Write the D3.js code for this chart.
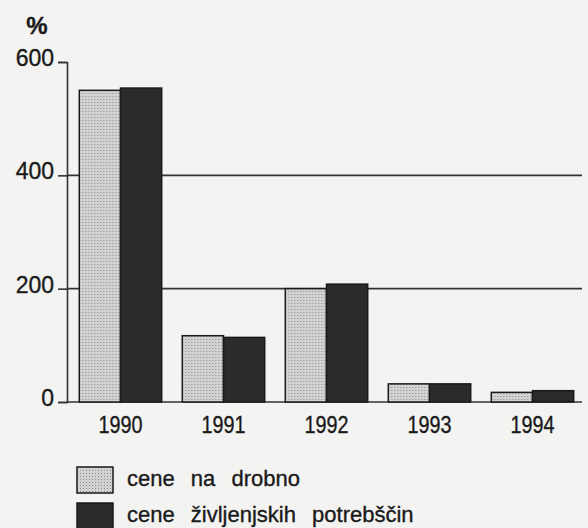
<!doctype html>
<html>
<head>
<style>
    body { margin: 0; background: #f3f3f1; }
    text { font-family: "Liberation Sans", Arial, sans-serif; fill: #1a1a1a; stroke: #1a1a1a; stroke-width: 0.35px; }
</style>
<script src="https://d3js.org/d3.v7.min.js"></script>
</head>
<body>

    <svg id="chart" width="588" height="528"></svg>

    <script>

        // Data
        var years = ["1990", "1991", "1992", "1993", "1994"];
        var retail = [550, 117, 200, 32, 17];        // cene na drobno
        var living = [554, 114, 208, 32, 20];        // cene življenjskih potrebščin
        var yTicks = [0, 200, 400, 600];
        var seriesNames = ["cene na drobno", "cene življenjskih potrebščin"];

        var svg = d3.select("#chart");

        // Scales
        var x = d3.scaleBand().domain(years).range([69, 584]).paddingInner(0.2).paddingOuter(0.1);
        var xs = d3.scaleBand().domain([0, 1]).range([0, x.bandwidth()]);
        var y = d3.scaleLinear().domain([0, 600]).range([402, 62]);
        var colors = ["#c6c6c4", "#2b2b2b"];

        // light grey stipple
        var defs = svg.append("defs");
        var pat = defs.append("pattern").attr("id", "dots")
            .attr("width", 3).attr("height", 3).attr("patternUnits", "userSpaceOnUse");
        pat.append("rect").attr("width", 3).attr("height", 3).attr("fill", "#d2d2d0");
        pat.append("rect").attr("width", 1).attr("height", 1).attr("fill", "#8a8a8a");

        // Gridlines at 200 and 400
        svg.append("g")
            .selectAll("line")
            .data([200, 400])
            .enter()
            .append("line")
              .attr("x1", 67).attr("x2", 582)
              .attr("y1", function (d) { return y(d); })
              .attr("y2", function (d) { return y(d); })
              .attr("stroke", "#333")
              .attr("stroke-width", 1.6);

        // Y axis
        var yAxis = svg.append("g")
            .attr("transform", "translate(67,0)")
            .call(d3.axisLeft(y).tickValues(yTicks).tickSize(9).tickPadding(4));
        yAxis.select(".domain").attr("stroke", "#333").attr("stroke-width", 1.6);
        yAxis.selectAll(".tick line").attr("stroke", "#333").attr("stroke-width", 1.6);
        yAxis.selectAll(".tick text")
            .style("font-size", "23px")
            .attr("fill", "#1a1a1a")
            .attr("stroke", "#1a1a1a")
            .attr("stroke-width", 0.5)
            .attr("dy", "0.15em")
            .style("font-family", "'Liberation Sans', Arial, sans-serif");

        // Baseline
        svg.append("line")
            .attr("x1", 67).attr("x2", 582)
            .attr("y1", y(0)).attr("y2", y(0))
            .attr("stroke", "#333").attr("stroke-width", 1.6);

        // Bars
        var groups = svg.append("g")
            .selectAll("g")
            .data(years)
            .enter()
            .append("g")
              .attr("transform", function (d) { return "translate(" + x(d) + ",0)"; });

        groups.selectAll("rect")
            .data(function (d, i) { return [retail[i], living[i]]; })
            .enter()
            .append("rect")
              .attr("x", function (d, j) { return xs(j); })
              .attr("width", xs.bandwidth())
              .attr("y", function (d) { return y(d); })
              .attr("height", function (d) { return y(0) - y(d); })
              .attr("fill", function (d, j) { return j === 0 ? "url(#dots)" : colors[1]; })
              .attr("stroke", "#1a1a1a")
              .attr("stroke-width", 1.5);

        // Year labels (narrow face)
        svg.append("g")
            .selectAll("text")
            .data(years)
            .enter()
            .append("text")
              .attr("x", function (d) { return x(d) + x.bandwidth() / 2 - 22; })
              .attr("y", 433)
              .attr("textLength", 44)
              .attr("lengthAdjust", "spacingAndGlyphs")
              .style("font-size", "24px")
              .text(function (d) { return d; });

        // Unit label
        svg.append("text")
            .attr("x", 37).attr("y", 34)
            .attr("text-anchor", "middle")
            .style("font-size", "24px")
            .style("font-weight", "bold")
            .text("%");

        // Legend
        var legend = svg.append("g")
            .selectAll("g")
            .data(seriesNames)
            .enter()
            .append("g")
              .attr("transform", function (d, i) { return "translate(77," + (467 + i * 36) + ")"; });

        legend.append("rect")
            .attr("width", 36).attr("height", 26)
            .attr("fill", function (d, i) { return i === 0 ? "url(#dots)" : colors[1]; })
            .attr("stroke", "#1a1a1a")
            .attr("stroke-width", 1.5);

        legend.append("text")
            .attr("x", 50).attr("y", 19)
            .style("font-size", "22px")
            .style("word-spacing", "10px")
            .text(function (d) { return d; });

    </script>

</body>
</html>
